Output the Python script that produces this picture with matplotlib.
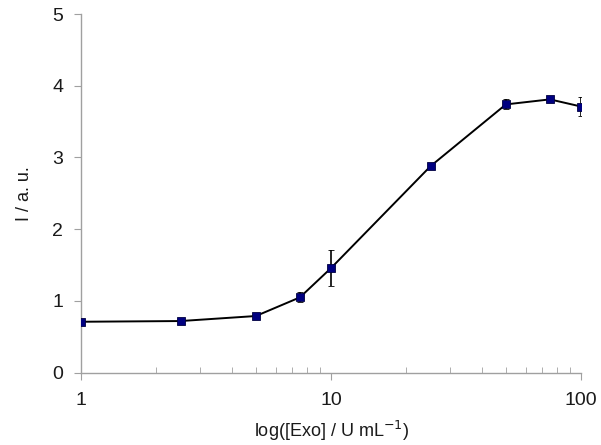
import matplotlib
matplotlib.use("Agg")
import matplotlib.pyplot as plt
from matplotlib.ticker import LogLocator, NullFormatter, FixedLocator, FixedFormatter

plt.rcParams['font.family'] = ['Liberation Sans', 'DejaVu Sans']

conc = [1, 2.5, 5, 7.5, 10, 25, 50, 75, 100]
intensity = [0.71, 0.72, 0.79, 1.05, 1.46, 2.88, 3.74, 3.81, 3.71]
err = [0.0, 0.02, 0.0, 0.07, 0.25, 0.0, 0.07, 0.0, 0.13]

fig = plt.figure(figsize=(6.01, 4.45), dpi=100)
ax = fig.add_axes([0.135, 0.1625, 0.832, 0.806])

ax.errorbar(conc, intensity, yerr=err, color="black", lw=1.4,
            ecolor="black", elinewidth=1.2, capsize=2.5, capthick=1.2,
            marker="s", ms=6, mfc="#000080", mec="#000040", mew=0.6, zorder=3)

ax.set_xscale("log")
ax.set_xlim(1, 100)
ax.set_ylim(0, 5)
ax.set_yticks([0, 1, 2, 3, 4, 5])
ax.xaxis.set_major_locator(FixedLocator([1, 10, 100]))
ax.xaxis.set_major_formatter(FixedFormatter(["1", "10", "100"]))
ax.xaxis.set_minor_locator(LogLocator(base=10, subs=range(2, 10)))
ax.xaxis.set_minor_formatter(NullFormatter())

for s in ["top", "right"]:
    ax.spines[s].set_visible(False)
for s in ["left", "bottom"]:
    ax.spines[s].set_color("#a0a0a0")
    ax.spines[s].set_linewidth(1.0)

ax.tick_params(axis="y", direction="out", length=5, color="#a0a0a0",
               labelsize=14, pad=8, labelcolor="#1a1a1a")
ax.tick_params(axis="x", which="major", direction="out", length=5,
               color="#a0a0a0", labelsize=14, pad=9, labelcolor="#1a1a1a")
ax.tick_params(axis="x", which="minor", direction="in", length=4,
               color="#a0a0a0")

ax.set_xlabel("log([Exo] / U mL$^{-1}$)", fontsize=13, color="#1a1a1a", labelpad=7)
ax.set_ylabel("I / a. u.", fontsize=13, color="#1a1a1a", labelpad=14)

fig.savefig("out.png", dpi=100)
